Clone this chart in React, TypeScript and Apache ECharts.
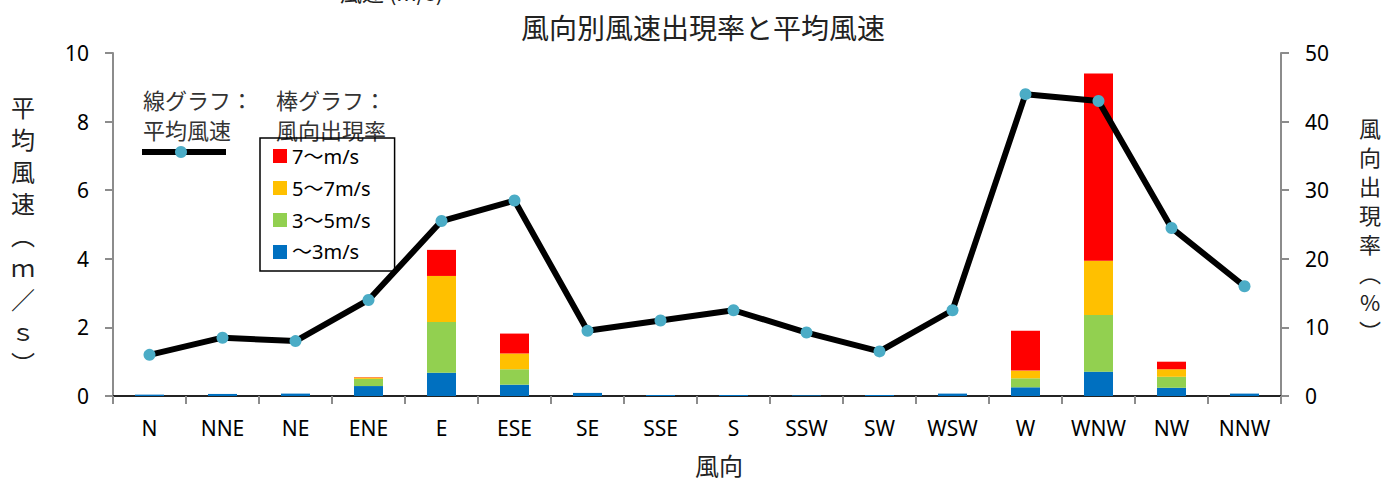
import React, { useEffect, useRef } from "react";
import * as echarts from "echarts";

const categories = ["N", "NNE", "NE", "ENE", "E", "ESE", "SE", "SSE", "S", "SSW", "SW", "WSW", "W", "WNW", "NW", "NNW"];
const avgSpeed = [1.2, 1.7, 1.6, 2.8, 5.1, 5.7, 1.9, 2.2, 2.5, 1.85, 1.3, 2.5, 8.8, 8.6, 4.9, 3.2];
const under3 = [0.2, 0.3, 0.35, 1.45, 3.4, 1.65, 0.45, 0.15, 0.15, 0.1, 0.15, 0.35, 1.27, 3.55, 1.2, 0.35];
const from3to5 = [0, 0, 0, 1.05, 7.4, 2.25, 0, 0, 0, 0, 0, 0, 1.31, 8.25, 1.6, 0];
const from5to7 = [0, 0, 0, 0.2, 6.7, 2.3, 0, 0, 0, 0, 0, 0, 1.12, 7.9, 1.1, 0];
const over7 = [0, 0, 0, 0.05, 3.8, 2.9, 0, 0, 0, 0, 0, 0, 5.8, 27.3, 1.1, 0];
const barNames = ["〜3m/s", "3〜5m/s", "5〜7m/s", "7〜m/s"];
const barColors = ["#0070C0", "#92D050", "#FFC000", "#FF0000"];

const CJK = '"Noto Sans CJK JP", sans-serif';
const LAT = '"Noto Sans", "Noto Sans CJK JP", sans-serif';

export default function App() {
  const ref = useRef<HTMLDivElement>(null);
  useEffect(() => {
    document.body.style.margin = "0";
    if (!ref.current) return;
    const chart = echarts.init(ref.current, null, { renderer: "svg" });
    const axisGray = "#8c8c8c";
    const barData = [under3, from3to5, from5to7, over7];
    const option: any = {
      animation: false,
      grid: { left: 113, right: 106, top: 53, bottom: 85, containLabel: false },
      legend: {
        orient: "vertical",
        left: 260,
        top: 138,
        data: ["7〜m/s", "5〜7m/s", "3〜5m/s", "〜3m/s"],
        icon: "rect",
        itemWidth: 14,
        itemHeight: 14,
        itemGap: 12,
        padding: [8, 24, 9, 13],
        borderColor: "#000",
        borderWidth: 1.5,
        textStyle: { fontSize: 20, fontFamily: LAT, color: "#000" },
      },
      xAxis: [
        {
          type: "category",
          data: categories,
          position: "bottom",
          axisLine: { lineStyle: { color: axisGray, width: 2 } },
          axisTick: { show: true, alignWithLabel: false, length: 8, lineStyle: { color: axisGray, width: 2 } },
          axisLabel: { fontSize: 21, fontFamily: LAT, color: "#000", margin: 21, interval: 0 },
        },
        {
          type: "category",
          data: categories,
          position: "top",
          axisLine: { lineStyle: { color: "#000", width: 1.5 } },
          axisTick: { show: false },
          axisLabel: { show: false },
        },
      ],
      yAxis: [
        {
          type: "value",
          min: 0,
          max: 10,
          interval: 2,
          position: "left",
          axisLine: { show: true, lineStyle: { color: axisGray, width: 2 } },
          axisTick: { show: true, length: 8, lineStyle: { color: axisGray, width: 2 } },
          splitLine: { show: false },
          axisLabel: { fontSize: 21, fontFamily: LAT, color: "#000", margin: 24 },
        },
        {
          type: "value",
          min: 0,
          max: 50,
          interval: 10,
          position: "right",
          axisLine: { show: true, lineStyle: { color: axisGray, width: 2 } },
          axisTick: { show: true, length: 8, lineStyle: { color: axisGray, width: 2 } },
          splitLine: { show: false },
          axisLabel: { fontSize: 21, fontFamily: LAT, color: "#000", margin: 24 },
        },
      ],
      series: [
        ...barData.map((d, i) => ({
          name: barNames[i],
          type: "bar",
          stack: "rate",
          yAxisIndex: 1,
          barWidth: 29,
          data: d,
          itemStyle: { color: barColors[i] },
          z: 2,
        })),
        {
          name: "平均風速",
          type: "line",
          yAxisIndex: 0,
          data: avgSpeed,
          symbol: "circle",
          symbolSize: 12,
          lineStyle: { color: "#000", width: 6 },
          itemStyle: { color: "#4BACC6" },
          z: 5,
        },
      ],
      graphic: [
        {
          type: "text",
          left: 340,
          top: -20,
          style: { text: "風速 (m/s)", fontSize: 22, fontFamily: CJK, fill: "#222" },
        },
        {
          type: "text",
          x: 703,
          y: 27,
          style: { text: "風向別風速出現率と平均風速", fontSize: 28, fontFamily: CJK, fill: "#222", textAlign: "center", textVerticalAlign: "middle" },
        },
        {
          type: "text",
          x: 23,
          y: 234,
          style: {
            text: "平\n均\n風\n速\n︵\nｍ\n／\nｓ\n︶",
            fontSize: 24,
            lineHeight: 32,
            fontFamily: CJK,
            fill: "#222",
            textAlign: "center",
            textVerticalAlign: "middle",
          },
        },
        {
          type: "text",
          x: 1370,
          y: 228,
          style: {
            text: "風\n向\n出\n現\n率\n︵\n%\n︶",
            fontSize: 22,
            lineHeight: 29,
            fontFamily: CJK,
            fill: "#222",
            textAlign: "center",
            textVerticalAlign: "middle",
          },
        },
        {
          type: "text",
          x: 719,
          y: 464,
          style: { text: "風向", fontSize: 24, lineHeight: 26, fontFamily: CJK, fill: "#222", textAlign: "center", textVerticalAlign: "middle" },
        },
        {
          type: "text",
          left: 143,
          top: 84,
          style: { text: "線グラフ：\n平均風速", fontSize: 22, lineHeight: 30, fontFamily: CJK, fill: "#333" },
        },
        {
          type: "text",
          left: 276,
          top: 84,
          style: { text: "棒グラフ：\n風向出現率", fontSize: 22, lineHeight: 30, fontFamily: CJK, fill: "#333" },
        },
        {
          type: "line",
          shape: { x1: 142, y1: 152, x2: 226, y2: 152 },
          style: { stroke: "#000", lineWidth: 6 },
        },
        {
          type: "circle",
          shape: { cx: 181, cy: 152, r: 6 },
          style: { fill: "#4BACC6" },
        },
      ],
    };
    chart.setOption(option);
    return () => chart.dispose();
  }, []);
  return <div ref={ref} style={{ width: 1387, height: 481 }} />;
}
